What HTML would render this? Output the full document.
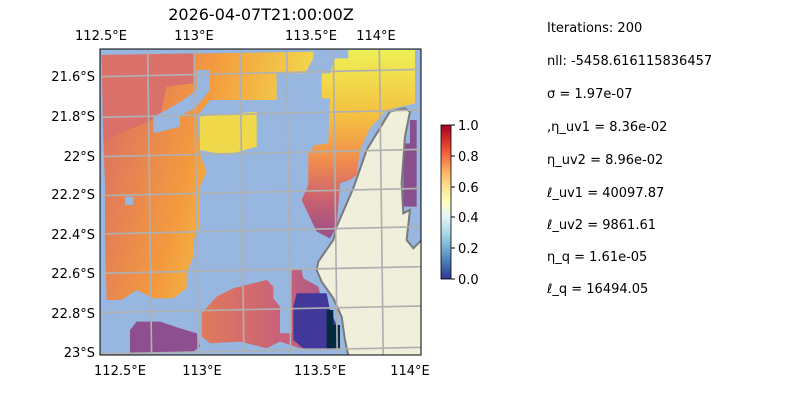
<!DOCTYPE html>
<html><head><meta charset="utf-8"><style>
body{margin:0;background:#fff;width:800px;height:400px;overflow:hidden;font-family:"DejaVu Sans",sans-serif}
</style></head><body>
<svg width="800" height="400" xmlns="http://www.w3.org/2000/svg" font-family="DejaVu Sans, sans-serif">
<defs>
<linearGradient id="cb" x1="0" y1="1" x2="0" y2="0">
<stop offset="0" stop-color="#313695"/><stop offset="0.1" stop-color="#4575b4"/><stop offset="0.2" stop-color="#74add1"/><stop offset="0.3" stop-color="#abd9e9"/><stop offset="0.4" stop-color="#e0f3f8"/><stop offset="0.5" stop-color="#ffffbf"/><stop offset="0.6" stop-color="#fee090"/><stop offset="0.7" stop-color="#fdae61"/><stop offset="0.8" stop-color="#f46d43"/><stop offset="0.9" stop-color="#d73027"/><stop offset="1" stop-color="#a50026"/>
</linearGradient>
<linearGradient id="tr" x1="0" y1="0" x2="0" y2="1">
<stop offset="0" stop-color="#eef055"/><stop offset="0.35" stop-color="#f5c040"/><stop offset="0.6" stop-color="#f08a50"/><stop offset="0.8" stop-color="#c86070"/><stop offset="1" stop-color="#9a4f8a"/>
</linearGradient>
<linearGradient id="tl" x1="0" y1="0" x2="1" y2="0.3">
<stop offset="0" stop-color="#d86a68"/><stop offset="0.5" stop-color="#f39a3e"/><stop offset="1" stop-color="#f2e04e"/>
</linearGradient>
<linearGradient id="bl" x1="0" y1="0" x2="1" y2="0">
<stop offset="0" stop-color="#e07a5a"/><stop offset="0.6" stop-color="#c8607a"/><stop offset="1" stop-color="#a05a90"/>
</linearGradient>
<clipPath id="mc"><rect x="100" y="49" width="321" height="306"/></clipPath>
</defs>
<text x="261" y="20" font-size="16" text-anchor="middle">2026-04-07T21:00:00Z</text>
<g font-size="13" text-anchor="middle">
<text x="101" y="40">112.5°E</text><text x="194" y="40">113°E</text><text x="311" y="40">113.5°E</text><text x="376" y="40">114°E</text>
<text x="120" y="375">112.5°E</text><text x="202" y="375">113°E</text><text x="320" y="375">113.5°E</text><text x="410" y="375">114°E</text>
</g>
<g font-size="13" text-anchor="end">
<text x="95" y="81">21.6°S</text><text x="95" y="121">21.8°S</text><text x="95" y="161">22°S</text><text x="95" y="199">22.2°S</text><text x="95" y="239">22.4°S</text><text x="95" y="278">22.6°S</text><text x="95" y="318">22.8°S</text><text x="95" y="357">23°S</text>
</g>
<g clip-path="url(#mc)">
<rect x="100" y="49" width="321" height="306" fill="#97b6e0"/>
<g transform="translate(100,40) scale(0.3333)">
<polygon fill="url(#tl)" points="5,45 640,35 640,55 615,100 530,100 530,175 555,175 555,200 480,210 470,320 380,345 300,345 320,395 300,440 300,560 280,600 280,650 260,700 260,745 220,775 160,775 110,750 65,780 20,780 15,600 15,430 10,300"/>
<polygon fill="#d9706a" points="5,45 280,40 280,130 200,140 180,230 10,300"/>
<polygon fill="#97b6e0" points="290,90 330,90 330,150 290,200 240,230 240,260 160,280 160,230 200,210 250,180 290,150"/>
<polygon fill="#97b6e0" points="330,180 530,180 530,175 555,175 555,200 480,210 470,320 380,345 300,345 290,230"/>
<polygon fill="#efd84a" points="300,230 470,215 470,320 380,345 300,330"/>
<polygon fill="#97b6e0" points="75,470 100,470 100,495 75,495"/>
<polygon fill="url(#tr)" points="745,30 945,30 945,190 860,210 810,265 780,330 770,405 750,420 720,430 710,560 690,595 650,575 605,480 625,435 625,340 645,315 685,310 690,175 665,175 665,100 690,100 705,55 745,55"/>
<polygon fill="#8a4f8f" points="910,310 930,310 930,240 950,240 950,500 910,500"/>
<polygon fill="url(#bl)" points="305,820 350,770 400,745 500,720 520,740 520,775 540,800 540,880 575,880 575,690 605,690 610,715 655,740 660,760 680,810 700,855 720,925 600,925 540,905 500,925 420,905 330,910 305,890"/>
<polygon fill="#41389a" points="590,760 680,760 690,810 710,855 720,925 610,925 580,900 580,800"/>
<polygon fill="#052a40" points="680,810 700,810 700,855 720,855 720,925 680,925"/>
<polygon fill="#8d4f8f" points="90,870 110,845 180,845 240,865 290,880 300,920 280,935 90,940"/>
<polygon fill="#efefdb" stroke="#7a7a7a" stroke-width="6" points="748,960 735,900 725,830 700,775 665,725 650,690 655,665 700,600 710,560 760,445 800,330 870,215 915,205 930,215 915,290 905,430 910,520 930,510 920,600 940,625 965,600 965,960"/>
<g stroke="#b0b0b0" stroke-width="5" fill="none">
<line x1="143" y1="20" x2="155" y2="960"/><line x1="283" y1="20" x2="295" y2="960"/><line x1="420" y1="20" x2="432" y2="960"/><line x1="560" y1="20" x2="572" y2="960"/><line x1="700" y1="20" x2="712" y2="960"/><line x1="838" y1="20" x2="850" y2="960"/>
<line x1="0" y1="110" x2="970" y2="88"/><line x1="0" y1="232" x2="970" y2="210"/><line x1="0" y1="350" x2="970" y2="328"/><line x1="0" y1="467" x2="970" y2="445"/><line x1="0" y1="582" x2="970" y2="560"/><line x1="0" y1="700" x2="970" y2="680"/><line x1="0" y1="818" x2="970" y2="798"/><line x1="0" y1="942" x2="970" y2="922"/>
</g>
</g>
</g>
<rect x="100" y="49" width="321" height="306" fill="none" stroke="#000" stroke-width="1"/>
<rect x="441" y="125" width="10" height="154" fill="url(#cb)" stroke="#000" stroke-width="0.8"/>
<g font-size="13">
<line x1="451" y1="125" x2="455" y2="125" stroke="#000"/><text x="458" y="130">1.0</text>
<line x1="451" y1="156" x2="455" y2="156" stroke="#000"/><text x="458" y="161">0.8</text>
<line x1="451" y1="187" x2="455" y2="187" stroke="#000"/><text x="458" y="192">0.6</text>
<line x1="451" y1="217" x2="455" y2="217" stroke="#000"/><text x="458" y="222">0.4</text>
<line x1="451" y1="248" x2="455" y2="248" stroke="#000"/><text x="458" y="253">0.2</text>
<line x1="451" y1="279" x2="455" y2="279" stroke="#000"/><text x="458" y="284">0.0</text>
</g>
<g font-size="13">
<text x="547" y="32">Iterations: 200</text>
<text x="547" y="65">nll: -5458.616115836457</text>
<text x="547" y="98">σ = 1.97e-07</text>
<text x="547" y="131">,η_uv1 = 8.36e-02</text>
<text x="547" y="164">η_uv2 = 8.96e-02</text>
<text x="547" y="197">ℓ_uv1 = 40097.87</text>
<text x="547" y="229">ℓ_uv2 = 9861.61</text>
<text x="547" y="261">η_q = 1.61e-05</text>
<text x="547" y="293">ℓ_q = 16494.05</text>
</g>
</svg>
</body></html>
